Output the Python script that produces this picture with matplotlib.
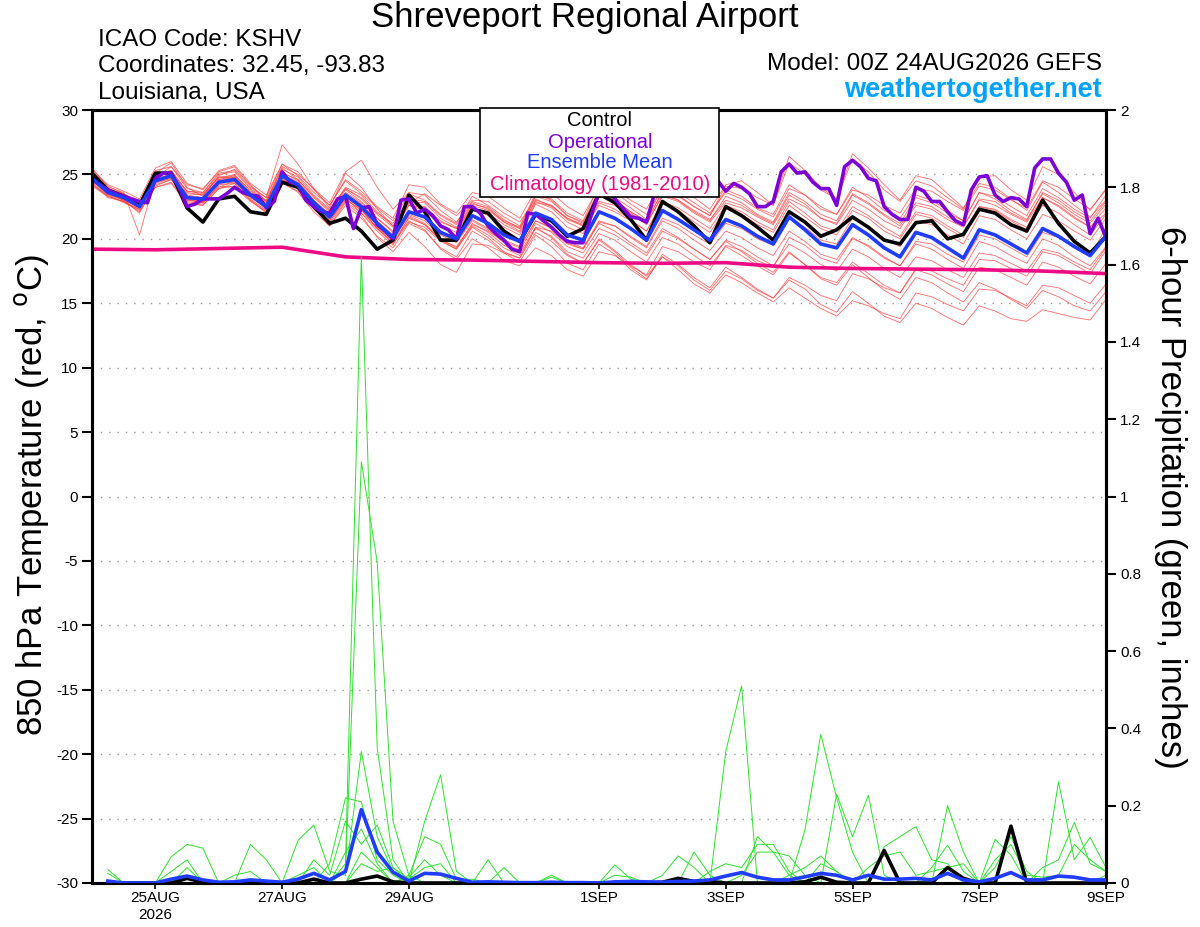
import numpy as np
import matplotlib
matplotlib.use('Agg')
import matplotlib.pyplot as plt
import matplotlib.dates as mdates
from matplotlib.patches import Rectangle
import pandas as pd

plt.rcParams['font.family'] = ['Liberation Sans', 'DejaVu Sans']
plt.rcParams['axes.unicode_minus'] = False

# ---------------- data ----------------
run_start = '2026-08-24 00:00'

control_temp = [25.1, 23.8, 23.3, 22.6, 25.1, 25.1, 22.4, 21.3, 23.1, 23.3, 22.1, 21.9, 24.4, 24.0, 22.5, 21.2,
                21.6, 20.6, 19.2, 19.9, 23.4, 22.1, 19.9, 19.9, 22.3, 22.0, 20.6, 19.8, 21.9, 21.4, 20.2, 20.8,
                23.5, 22.8, 21.5, 19.9, 22.9, 22.1, 21.0, 19.7, 22.5, 21.8, 20.9, 19.9, 22.1, 21.3, 20.2, 20.7,
                21.7, 20.9, 19.9, 19.6, 21.25, 21.4, 20.0, 20.35, 22.3, 22.0, 21.1, 20.6, 23.0, 21.2, 19.8, 18.9,
                20.2]

mean_temp = [24.7, 23.6, 23.2, 22.5, 24.5, 24.9, 23.2, 23.1, 24.4, 24.6, 23.4, 22.5, 24.9, 24.2, 22.8, 21.7,
             23.4, 22.5, 21.2, 20.1, 22.1, 21.7, 20.5, 20.0, 21.8, 21.2, 20.3, 19.8, 22.0, 21.5, 20.3, 19.9,
             22.1, 21.6, 20.8, 19.9, 22.2, 21.5, 20.7, 19.9, 21.5, 21.0, 20.2, 19.6, 21.7, 20.7, 19.6, 19.3,
             21.1, 20.3, 19.3, 18.6, 20.5, 20.1, 19.3, 18.5, 20.7, 20.3, 19.6, 18.9, 20.8, 20.2, 19.4, 18.7,
             20.2]

# operational run, 3-hourly
oper_temp = [24.6, 24.2, 23.8, 23.5, 23.3, 23.1, 22.9, 22.8, 24.7, 25.1, 25.1, 24.0, 22.5, 22.7, 23.1, 23.1,
             23.1, 23.5, 24.0, 23.6, 23.4, 23.3, 22.4, 22.9, 25.2, 24.4, 24.2, 23.0, 22.5, 22.1, 22.0, 23.1,
             23.3, 20.8, 22.4, 22.5, 21.1, 20.6, 20.0, 23.0, 23.1, 22.0, 22.3, 21.8, 21.0, 20.7, 20.0, 22.5,
             22.5, 22.0, 21.0, 20.4, 19.9, 19.2, 19.0, 22.0, 21.9, 21.4, 20.9, 20.3, 19.8, 19.7, 19.7, 21.8,
             23.6, 23.8, 23.1, 22.4, 21.7, 21.6, 21.3, 23.5, 24.4, 24.3, 24.6, 24.2, 24.8, 24.9, 24.3, 24.5,
             23.7, 24.3, 24.0, 23.5, 22.5, 22.5, 22.9, 25.2, 25.8, 25.1, 25.2, 24.4, 23.9, 23.9, 22.6, 25.6,
             26.1, 25.6, 24.7, 24.5, 22.5, 21.9, 21.5, 21.5, 24.0, 23.7, 22.9, 22.9, 22.1, 21.4, 21.1, 23.8,
             24.8, 24.9, 23.4, 22.9, 23.2, 23.1, 22.5, 25.5, 26.2, 26.2, 25.1, 24.4, 23.0, 23.4, 20.4, 21.6,
             20.1]

clim_temp = [19.2, 19.15, 19.25, 19.35, 18.6, 18.4, 18.35, 18.25, 18.15, 18.1, 18.15, 17.8, 17.7, 17.65,
             17.6, 17.5, 17.3]

member_temp = [
    [25.2, 23.9, 23.5, 22.8, 25.3, 25.6, 23.9, 23.6, 25.1, 25.3, 24.0, 23.2, 25.8, 24.9, 23.6, 22.6, 24.5, 23.5, 22.4, 21.4, 23.5, 23.0, 21.9, 21.2, 23.3, 22.6, 21.7, 21.0, 23.5, 23.0, 21.8, 21.3, 23.8, 23.2, 22.4, 21.5, 24.0, 23.4, 22.5, 21.8, 23.8, 23.3, 22.4, 21.9, 24.2, 23.4, 22.3, 21.9, 24.0, 23.2, 22.2, 21.6, 23.4, 23.0, 22.2, 21.4, 23.6, 23.3, 22.5, 21.8, 23.9, 23.2, 22.3, 21.6, 23.4],
    [24.9, 23.7, 23.4, 22.9, 25.1, 25.9, 24.0, 23.3, 24.9, 25.4, 24.2, 22.9, 25.5, 24.6, 23.3, 22.2, 24.0, 23.4, 22.1, 21.0, 22.9, 22.8, 21.6, 20.9, 22.7, 22.4, 21.3, 20.6, 23.4, 23.1, 22.0, 21.4, 24.2, 23.9, 23.0, 22.3, 24.6, 24.1, 23.2, 22.3, 24.2, 24.5, 23.6, 22.6, 25.9, 25.0, 23.8, 23.1, 26.2, 25.2, 23.8, 22.9, 24.5, 24.1, 23.2, 22.3, 24.8, 24.9, 23.8, 23.0, 25.6, 25.0, 23.6, 22.2, 23.9],
    [24.4, 23.3, 22.9, 22.1, 24.0, 24.4, 22.8, 22.6, 23.9, 24.3, 23.0, 22.0, 24.4, 23.6, 22.1, 21.0, 22.6, 21.6, 20.2, 19.3, 21.2, 20.6, 19.3, 18.6, 20.6, 19.9, 18.9, 18.2, 20.3, 19.4, 18.1, 17.6, 19.6, 18.8, 17.6, 16.8, 18.8, 18.0, 17.0, 16.2, 17.8, 17.0, 16.1, 15.4, 16.8, 16.1, 14.9, 14.3, 15.9, 15.0, 14.0, 13.5, 15.0, 14.6, 13.9, 13.3, 14.8, 14.4, 13.8, 13.6, 14.5, 14.2, 13.9, 13.7, 15.3],
    [24.2, 23.4, 23.0, 22.0, 24.2, 24.6, 23.0, 22.8, 24.1, 24.0, 22.9, 22.1, 24.6, 23.9, 22.6, 21.4, 23.0, 22.3, 20.8, 19.6, 21.3, 20.9, 19.8, 19.2, 20.9, 20.1, 19.0, 18.5, 20.5, 19.8, 18.7, 18.1, 20.0, 19.1, 18.0, 17.1, 18.6, 17.6, 16.5, 15.8, 17.2, 16.6, 15.8, 15.1, 16.2, 15.4, 14.6, 14.0, 15.2, 14.8, 14.2, 13.8, 15.8, 15.5, 14.9, 14.4, 16.1, 16.0, 15.4, 14.8, 16.4, 16.2, 15.6, 15.0, 16.5],
    [25.0, 23.8, 23.3, 22.4, 24.3, 24.7, 23.1, 22.9, 24.6, 24.9, 23.6, 22.7, 24.8, 24.0, 22.5, 21.3, 23.2, 22.0, 20.6, 19.5, 21.7, 21.1, 19.9, 19.2, 21.0, 20.3, 19.3, 18.7, 20.8, 20.2, 19.0, 18.5, 20.4, 19.9, 19.0, 18.2, 20.1, 19.6, 18.7, 17.9, 19.4, 18.7, 17.9, 17.2, 18.9, 18.0, 17.0, 16.6, 18.2, 17.3, 16.4, 15.8, 17.6, 17.2, 16.5, 15.9, 17.8, 17.6, 17.0, 16.4, 18.2, 17.8, 17.1, 16.5, 18.1],
    [24.8, 23.5, 23.1, 22.7, 24.9, 25.3, 23.6, 23.4, 24.7, 25.0, 23.7, 22.9, 25.2, 24.5, 23.0, 21.9, 23.8, 22.9, 21.6, 20.5, 22.6, 22.2, 21.1, 20.5, 22.5, 21.8, 20.9, 20.3, 22.7, 22.1, 20.9, 20.4, 22.8, 22.3, 21.5, 20.6, 22.9, 22.4, 21.6, 20.8, 22.6, 22.1, 21.3, 20.7, 22.9, 22.0, 21.0, 20.6, 22.5, 21.8, 20.9, 20.2, 22.1, 21.8, 21.0, 20.3, 22.5, 22.2, 21.4, 20.7, 22.6, 22.0, 21.1, 20.3, 21.9],
    [25.5, 24.0, 23.6, 20.3, 24.8, 25.6, 24.2, 23.9, 25.2, 25.6, 24.1, 23.2, 27.3, 25.8, 23.9, 22.4, 25.1, 24.0, 22.3, 21.0, 22.8, 23.5, 22.6, 21.8, 23.0, 22.9, 22.0, 21.3, 23.1, 22.5, 21.6, 21.0, 22.9, 22.6, 21.9, 21.2, 23.3, 22.9, 22.0, 21.3, 22.8, 22.4, 21.7, 21.1, 23.1, 22.5, 21.6, 21.2, 23.4, 22.7, 21.8, 21.0, 22.8, 22.5, 21.7, 21.0, 23.0, 22.6, 21.9, 21.3, 23.2, 22.5, 21.6, 20.9, 22.4],
    [24.6, 23.7, 23.2, 22.6, 24.6, 24.8, 23.0, 22.9, 24.3, 24.4, 23.2, 22.4, 24.7, 24.1, 22.9, 21.8, 23.2, 22.4, 21.1, 20.0, 21.8, 21.2, 20.0, 19.3, 21.2, 20.5, 19.5, 18.9, 20.9, 20.1, 18.8, 18.1, 19.9, 19.0, 17.8, 16.9, 18.6, 17.9, 16.8, 16.0, 17.5, 16.9, 16.0, 15.4, 17.0, 16.4, 15.6, 15.2, 17.3, 16.9, 16.2, 15.8, 17.7, 17.5, 16.9, 16.4, 18.4, 18.3, 17.7, 17.1, 19.0, 18.7, 18.0, 17.3, 19.1],
    [24.5, 23.4, 22.8, 22.3, 24.1, 24.6, 22.9, 22.7, 24.2, 24.3, 23.1, 22.2, 24.6, 24.0, 22.7, 21.7, 23.6, 22.8, 21.6, 20.6, 22.6, 22.4, 21.3, 20.8, 22.6, 22.2, 21.3, 20.8, 23.0, 22.6, 21.5, 21.0, 23.3, 22.8, 22.0, 21.1, 23.4, 23.0, 22.1, 21.4, 23.3, 22.8, 21.9, 21.3, 23.6, 22.9, 21.9, 21.4, 23.5, 22.8, 21.9, 21.2, 23.2, 22.8, 22.0, 21.4, 23.6, 23.1, 22.2, 21.5, 23.5, 22.8, 21.9, 21.2, 22.7],
    [24.3, 23.2, 22.9, 22.2, 24.0, 24.3, 22.7, 22.6, 23.9, 24.1, 23.0, 22.1, 24.3, 23.7, 22.3, 21.2, 22.9, 22.0, 20.8, 19.8, 21.6, 21.1, 19.9, 19.4, 21.1, 20.6, 19.8, 19.3, 21.4, 20.9, 19.8, 19.3, 21.4, 21.0, 20.1, 19.3, 21.4, 20.8, 19.9, 19.1, 20.6, 20.1, 19.3, 18.7, 20.6, 19.8, 18.8, 18.4, 20.1, 19.4, 18.5, 17.9, 19.6, 19.2, 18.4, 17.7, 19.8, 19.4, 18.7, 18.1, 20.0, 19.5, 18.6, 17.9, 19.4],
    [24.9, 23.8, 23.5, 22.9, 24.7, 25.0, 23.5, 23.4, 24.8, 24.9, 23.8, 22.9, 25.4, 24.8, 23.4, 22.3, 23.9, 23.1, 21.9, 20.9, 22.7, 22.5, 21.4, 20.8, 22.4, 22.0, 21.1, 20.5, 22.8, 22.6, 21.6, 21.1, 23.4, 23.0, 22.1, 21.3, 23.7, 23.3, 22.5, 21.8, 24.1, 23.9, 23.2, 22.6, 26.4, 25.3, 24.0, 23.1, 26.6, 25.5, 24.2, 23.0, 24.9, 24.6, 23.5, 22.4, 24.3, 24.0, 23.1, 22.2, 24.4, 23.6, 22.6, 21.7, 23.0],
    [24.6, 23.6, 23.0, 22.4, 24.4, 24.7, 23.3, 23.0, 24.5, 24.8, 23.5, 22.6, 24.7, 24.0, 22.4, 21.0, 22.8, 21.8, 20.1, 19.0, 20.5, 19.4, 18.0, 17.4, 19.6, 19.5, 18.9, 18.5, 20.9, 20.6, 19.6, 19.2, 21.3, 21.0, 20.2, 19.4, 21.6, 21.1, 20.3, 19.6, 21.2, 20.8, 20.0, 19.5, 21.6, 20.9, 19.9, 19.6, 21.6, 21.0, 20.0, 19.4, 21.4, 21.1, 20.3, 19.6, 21.8, 21.5, 20.7, 20.0, 21.9, 21.4, 20.6, 19.9, 21.6],
    [25.3, 24.1, 23.5, 22.7, 25.0, 25.3, 23.7, 23.6, 25.0, 25.2, 23.9, 23.0, 25.6, 25.0, 23.9, 22.8, 25.2, 26.1, 24.0, 22.3, 23.6, 23.4, 22.2, 21.3, 22.9, 22.5, 21.5, 20.8, 22.9, 22.4, 21.3, 20.7, 22.6, 22.1, 21.4, 20.6, 22.7, 22.2, 21.3, 20.5, 22.3, 21.9, 21.1, 20.5, 22.6, 21.7, 20.8, 20.3, 22.2, 21.6, 20.6, 20.0, 21.9, 21.6, 20.8, 20.1, 22.5, 22.3, 21.5, 20.9, 23.2, 22.6, 21.7, 20.9, 22.0],
    [24.1, 23.3, 22.9, 22.3, 24.4, 24.8, 23.1, 22.8, 24.0, 24.5, 23.3, 22.3, 24.5, 24.1, 22.6, 21.5, 23.1, 22.2, 20.9, 19.9, 21.9, 21.4, 20.3, 19.7, 21.4, 20.7, 19.7, 19.1, 21.2, 20.5, 19.4, 18.9, 20.8, 20.3, 19.5, 18.7, 20.6, 20.0, 19.2, 18.4, 19.9, 19.4, 18.6, 17.9, 19.6, 18.9, 18.0, 17.5, 19.2, 18.6, 17.7, 17.0, 18.6, 18.3, 17.6, 17.0, 18.9, 18.7, 18.1, 17.5, 19.2, 18.9, 18.2, 17.6, 19.3],
    [25.4, 24.2, 23.7, 23.1, 25.5, 26.0, 24.3, 23.8, 25.3, 25.7, 24.3, 23.4, 25.8, 25.2, 23.8, 22.6, 24.6, 23.7, 22.5, 21.6, 24.2, 24.0, 22.7, 22.0, 23.6, 23.3, 22.4, 21.6, 23.8, 23.6, 22.5, 21.8, 24.0, 23.6, 22.7, 21.9, 23.9, 23.6, 22.8, 22.0, 23.6, 23.1, 22.3, 21.7, 23.9, 23.4, 22.5, 21.9, 23.8, 23.4, 22.6, 22.0, 23.9, 23.7, 22.9, 22.2, 24.1, 23.8, 23.0, 22.4, 24.5, 24.0, 23.1, 22.3, 23.8],
    [24.7, 23.5, 23.0, 22.5, 24.8, 25.2, 23.4, 23.2, 24.6, 24.8, 23.5, 22.7, 25.0, 24.3, 22.9, 21.6, 23.3, 22.3, 20.8, 19.7, 21.4, 20.7, 19.2, 18.4, 20.0, 19.3, 18.3, 17.9, 19.3, 18.7, 17.6, 17.1, 19.0, 18.7, 17.9, 17.2, 19.4, 19.0, 18.2, 17.6, 19.5, 19.1, 18.3, 17.8, 20.1, 19.5, 18.5, 18.1, 20.0, 19.5, 18.6, 17.9, 19.8, 19.6, 18.8, 18.2, 20.3, 20.0, 19.3, 18.6, 20.5, 20.1, 19.3, 18.6, 20.9],
    [24.6, 23.7, 23.4, 22.8, 24.9, 25.1, 23.7, 23.5, 24.8, 24.7, 23.6, 22.8, 25.1, 24.6, 23.2, 22.1, 23.9, 23.2, 22.0, 21.2, 23.1, 22.9, 21.8, 21.1, 22.8, 22.3, 21.4, 20.9, 23.3, 22.9, 21.8, 21.2, 23.5, 23.0, 22.1, 21.4, 23.6, 23.0, 22.2, 21.5, 23.0, 22.6, 21.8, 21.2, 23.4, 22.7, 21.6, 21.1, 23.0, 22.3, 21.4, 20.8, 22.6, 22.3, 21.5, 20.9, 23.1, 22.9, 22.0, 21.4, 23.6, 23.0, 22.1, 21.4, 22.9],
    [24.9, 23.6, 23.1, 22.5, 24.5, 25.0, 23.3, 23.0, 24.4, 24.7, 23.4, 22.5, 25.0, 24.4, 23.0, 21.9, 23.5, 22.7, 21.4, 20.3, 22.0, 21.6, 20.4, 19.8, 21.5, 20.8, 19.9, 19.4, 21.4, 20.8, 19.7, 19.2, 21.2, 20.6, 19.7, 18.9, 20.8, 20.1, 19.2, 18.4, 19.8, 19.0, 18.1, 17.4, 19.0, 18.0, 16.9, 16.4, 18.0, 17.0, 16.0, 15.3, 17.0, 16.6, 15.8, 15.1, 16.6, 16.1, 15.3, 14.6, 16.0, 15.5, 14.8, 14.4, 15.9],
]

# 6-hour precipitation (inches), periods ending at step 1..64
mean_precip = [0.005, 0.0, 0.0, 0.0, 0.01, 0.018, 0.008, 0.002, 0.003, 0.008, 0.005, 0.002, 0.01, 0.025, 0.008, 0.03,
               0.19, 0.08, 0.028, 0.005, 0.025, 0.023, 0.012, 0.002, 0.003, 0.002, 0.001, 0.001, 0.002, 0.001, 0.001, 0.0,
               0.003, 0.004, 0.003, 0.002, 0.004, 0.005, 0.008, 0.018, 0.027, 0.015, 0.008, 0.008, 0.016, 0.025, 0.02, 0.008,
               0.02, 0.01, 0.01, 0.012, 0.008, 0.025, 0.008, 0.003, 0.012, 0.027, 0.008, 0.008, 0.018, 0.015, 0.008, 0.008]

control_precip = [0.0, 0.0, 0.0, 0.0, 0.0, 0.012, 0.002, 0.0, 0.0, 0.0, 0.0, 0.0, 0.0, 0.01, 0.0, 0.0,
                  0.01, 0.018, 0.003, 0.0, 0.0, 0.0, 0.0, 0.0, 0.0, 0.0, 0.0, 0.0, 0.0, 0.0, 0.0, 0.0,
                  0.0, 0.0, 0.0, 0.002, 0.012, 0.004, 0.004, 0.0, 0.0, 0.0, 0.0, 0.0, 0.003, 0.015, 0.002, 0.0,
                  0.0, 0.084, 0.0, 0.0, 0.0, 0.04, 0.012, 0.0, 0.0, 0.147, 0.0, 0.0, 0.0, 0.0, 0.0, 0.0]

# ensemble members: nonzero 6-h amounts keyed by step number
member_precip = [
    {16: 0.05, 17: 1.62, 18: 0.35, 19: 0.06},
    {16: 0.03, 17: 1.09, 18: 0.83, 19: 0.16, 20: 0.02},
    {15: 0.05, 16: 0.22, 17: 0.21, 18: 0.06, 19: 0.02},
    {13: 0.11, 14: 0.15, 15: 0.03, 16: 0.02, 17: 0.34, 18: 0.12, 19: 0.03},
    {1: 0.035, 5: 0.068, 6: 0.10, 7: 0.09, 21: 0.16, 22: 0.28, 23: 0.03},
    {10: 0.10, 11: 0.06, 16: 0.08, 17: 0.14, 18: 0.05, 20: 0.02, 21: 0.12, 22: 0.10, 23: 0.01},
    {1: 0.025, 6: 0.04, 14: 0.06, 15: 0.02, 16: 0.16, 17: 0.10, 18: 0.15, 19: 0.04, 25: 0.06},
    {5: 0.03, 6: 0.06, 9: 0.02, 10: 0.03, 13: 0.02, 14: 0.04, 17: 0.08, 18: 0.04, 20: 0.015, 21: 0.06, 22: 0.02, 26: 0.04},
    {29: 0.02, 36: 0.02, 37: 0.07, 38: 0.04, 40: 0.34, 41: 0.51},
    {33: 0.047, 34: 0.01, 38: 0.08, 39: 0.02, 42: 0.12, 43: 0.08, 44: 0.07, 45: 0.02},
    {45: 0.137, 46: 0.385, 47: 0.22, 48: 0.08},
    {41: 0.02, 42: 0.08, 43: 0.08, 44: 0.02, 47: 0.23, 48: 0.12, 49: 0.227, 50: 0.02},
    {50: 0.094, 51: 0.12, 52: 0.146, 53: 0.06, 54: 0.05},
    {54: 0.20, 55: 0.08, 57: 0.113, 58: 0.072},
    {61: 0.262, 62: 0.06, 63: 0.118, 64: 0.04},
    {60: 0.04, 61: 0.06, 62: 0.157, 63: 0.05, 64: 0.03},
    {44: 0.02, 45: 0.04, 46: 0.07, 47: 0.03, 53: 0.04, 54: 0.098, 55: 0.03, 57: 0.04, 58: 0.12, 59: 0.03, 64: 0.02},
    {49: 0.04, 50: 0.07, 51: 0.08, 52: 0.02, 53: 0.03, 54: 0.04, 55: 0.05, 57: 0.06, 58: 0.10, 59: 0.02, 60: 0.015, 61: 0.02, 62: 0.10, 63: 0.06, 64: 0.03},
    {33: 0.02, 34: 0.015, 39: 0.03, 40: 0.05, 41: 0.04, 42: 0.10, 43: 0.10, 44: 0.03, 46: 0.05, 47: 0.03},
    {17: 0.05, 18: 0.03, 19: 0.04, 20: 0.01, 21: 0.04, 22: 0.05, 24: 0.01, 29: 0.015},
]

tick_dates = ['2026-08-25', '2026-08-27', '2026-08-29', '2026-09-01', '2026-09-03',
              '2026-09-05', '2026-09-07', '2026-09-09']
tick_labels = ['25AUG\n2026', '27AUG', '29AUG', '1SEP', '3SEP', '5SEP', '7SEP', '9SEP']
temp_ticks = [30, 25, 20, 15, 10, 5, 0, -5, -10, -15, -20, -25, -30]
precip_ticks = [0, 0.2, 0.4, 0.6, 0.8, 1, 1.2, 1.4, 1.6, 1.8, 2]

# ---------------- figure ----------------
t6 = pd.date_range(run_start, periods=len(control_temp), freq='6h')
t3 = pd.date_range(run_start, periods=len(oper_temp), freq='3h')
tday = pd.date_range(run_start, periods=len(clim_temp), freq='1D')
tp = t6[1:]

W, H = 1200, 927
fig = plt.figure(figsize=(W / 100, H / 100), dpi=100)
L, R, T, B = 92, 1106, 110, 883
ax = fig.add_axes([L / W, 1 - B / H, (R - L) / W, (B - T) / H])
ax2 = ax.twinx()

RED = '#ff3a3a'
GREEN = '#2ee02e'
PINK = '#ee0a84'
PURPLE = '#7c00d6'
BLUE = '#1f3cff'

for m in member_temp:
    ax.plot(t6, m, color=RED, lw=0.6, alpha=0.75, zorder=2)
ax.plot(tday, clim_temp, color=PINK, lw=2.6, zorder=3)
ax.plot(t6, control_temp, color='black', lw=2.6, zorder=4)
ax.plot(t3, oper_temp, color=PURPLE, lw=2.6, zorder=5)
ax.plot(t6, mean_temp, color=BLUE, lw=2.6, zorder=6)

for d in member_precip:
    arr = np.zeros(len(tp))
    for k, v in d.items():
        arr[k - 1] = v
    ax2.plot(tp, arr, color=GREEN, lw=0.7, zorder=2)
ax2.plot(tp, mean_precip, color=BLUE, lw=2.6, zorder=4)
ax2.plot(tp, control_precip, color='black', lw=2.6, zorder=3)

ax.set_xlim(t6[0], t6[-1])
ax.set_ylim(-30, 30)
ax2.set_ylim(0, 2)

ax.set_yticks(temp_ticks)
ax.set_yticklabels([str(v) for v in temp_ticks])
ax2.set_yticks(precip_ticks)
ax2.set_yticklabels(['%g' % v for v in precip_ticks])
ax.set_xticks(pd.to_datetime(tick_dates))
ax.set_xticklabels(tick_labels)

ax.yaxis.grid(True, linestyle=(0, (1, 5)), color='#9a9a9a', lw=1.0)
ax.set_axisbelow(True)

for a in (ax, ax2):
    for s in a.spines.values():
        s.set_linewidth(2.2)
ax.tick_params(axis='y', direction='out', length=7, width=1.5, labelsize=11, pad=3)
ax2.tick_params(axis='y', direction='out', length=7, width=1.5, labelsize=11, pad=3)
ax.tick_params(axis='x', direction='out', length=4, width=1.2, labelsize=11, pad=2)

fig.text(585 / W, 1 - 18 / H, 'Shreveport Regional Airport', ha='center', va='center', fontsize=25)
fig.text(98 / W, 1 - 40 / H, 'ICAO Code: KSHV', ha='left', va='center', fontsize=17.5)
fig.text(98 / W, 1 - 66 / H, 'Coordinates: 32.45, -93.83', ha='left', va='center', fontsize=17.5)
fig.text(98 / W, 1 - 93 / H, 'Louisiana, USA', ha='left', va='center', fontsize=17.5)
fig.text(1102 / W, 1 - 64 / H, 'Model: 00Z 24AUG2026 GEFS', ha='right', va='center', fontsize=17.5)
fig.text(1102 / W, 1 - 90 / H, 'weathertogether.net', ha='right', va='center', fontsize=19.5,
         fontweight='bold', color='#00a2ff')

fig.text(32 / W, 1 - 495 / H, r'850 hPa Temperature (red, $^\mathrm{o}$C)', rotation=90,
         ha='center', va='center', fontsize=25)
fig.text(1170 / W, 1 - 497 / H, '6-hour Precipitation (green, inches)', rotation=270,
         ha='center', va='center', fontsize=25)

# legend box
x0, x1, y0, y1 = 480, 719, 108, 197
fig.add_artist(Rectangle((x0 / W, 1 - y1 / H), (x1 - x0) / W, (y1 - y0) / H, transform=fig.transFigure,
                         facecolor='white', edgecolor='black', lw=1.2, zorder=10))
for txt, col, yy in [('Control', 'black', 120), ('Operational', PURPLE, 142),
                     ('Ensemble Mean', BLUE, 163), ('Climatology (1981-2010)', PINK, 185)]:
    fig.text(600 / W, 1 - yy / H, txt, color=col, ha='center', va='center', fontsize=14.5, zorder=11)

fig.savefig('out.png', dpi=100)
